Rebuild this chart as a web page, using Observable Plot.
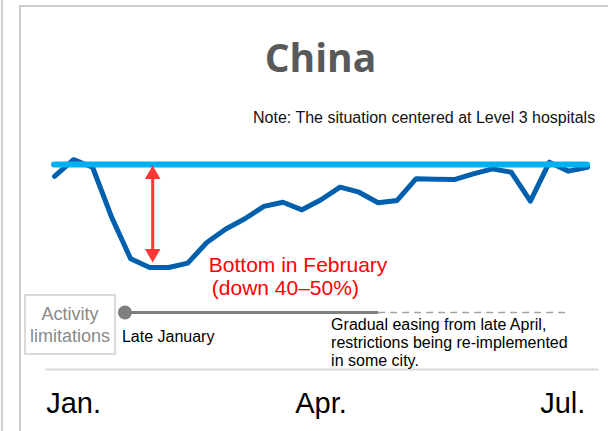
<!DOCTYPE html>
<html>
<head>
<meta charset="utf-8">
<script src="https://cdn.jsdelivr.net/npm/d3@7"></script>
<script src="https://cdn.jsdelivr.net/npm/@observablehq/plot@0.6"></script>
<style>
  html, body { margin: 0; padding: 0; background: #fff; }
  #page { position: relative; width: 608px; height: 431px; overflow: hidden;
          font-family: "Liberation Sans", Arial, sans-serif; }
  #edge { position: absolute; left: 1px; top: 0; width: 2px; height: 431px; background: #d0d0d0; }
  #panel { position: absolute; left: 19px; top: 5px; width: 640px; height: 460px;
           border-left: 2px solid #cdcdcd; border-top: 2px solid #cdcdcd; }
  #title { position: absolute; left: 200px; width: 241px; top: 37px; text-align: center;
           font-family: "Open Sans", sans-serif; font-weight: 700; font-size: 39px;
           line-height: 39px; color: #595959; }
  #note { position: absolute; left: 253px; top: 110px; font-size: 16px; line-height: 16px;
          color: #111; white-space: nowrap; }
  #lane { position: absolute; left: 24px; top: 294px; width: 92px; height: 61px;
          box-sizing: border-box; border: 2px solid #dadada; }
  #laneText { position: absolute; left: 24px; width: 92px; top: 303px; text-align: center;
              font-size: 18px; line-height: 22px; color: #8a8a8a; }
  .layer { position: absolute; left: 0; }
</style>
</head>
<body>
<div id="page">
  <div id="edge"></div>
  <div id="panel"></div>
  <div id="title">China</div>
  <div id="note">Note: The situation centered at Level 3 hospitals</div>
  <div id="lane"></div>
  <div id="laneText">Activity<br>limitations</div>
  <div id="chart" class="layer" style="top:0"></div>
  <div id="timeline" class="layer" style="top:280px"></div>
</div>
<script>
// Weekly hospital activity, indexed to the normal level (= 100), late Dec. to early Jul.
const weeklyActivity = [94.8, 102.1, 98.8, 77.0, 58.8, 55.0, 55.0, 56.9, 65.9, 71.8,
                        76.3, 81.7, 83.5, 80.2, 84.6, 90.1, 87.9, 83.3, 84.3, 93.8,
                        93.6, 93.4, 95.9, 98.1, 96.6, 84.0, 101.0, 97.1, 98.8];
const normalLevel = 100;
const bottomLevel = d3.min(weeklyActivity);
const bottomWeek = weeklyActivity.indexOf(bottomLevel);

// Month tick positions (week index) and their labels
const monthTicks = [1, 14, 26.7];
const monthLabels = ["Jan.", "Apr.", "Jul."];

// Annotation texts
const bottomNote = ["Bottom in February", "(down 40\u201350%)"];
const laneName = "Activity limitations";
const lateJanuary = 3.7;   // start of limitations
const lateApril = 17;      // start of gradual easing
const outlookEnd = 27;
const easingNote = "Gradual easing from late April,\nrestrictions being re-implemented\nin some city.";

const red = "#ff0000";
const arrowRed = "#ff3636";
const lastWeek = weeklyActivity.length - 1;
const xScale = {domain: [0, lastWeek], range: [54, 587]};
const font = "'Liberation Sans', Arial, sans-serif";

const chart = Plot.plot({
  width: 608,
  height: 431,
  marginTop: 0,
  marginLeft: 46,
  marginRight: 11,
  marginBottom: 62,
  x: {...xScale, axis: null},
  y: {domain: [bottomLevel, normalLevel], range: [267, 164], axis: null},
  style: {background: "transparent", fontFamily: font, overflow: "visible"},
  marks: [
    Plot.frame({anchor: "bottom", stroke: "#d9d9d9", strokeWidth: 2}),
    Plot.axisX(monthTicks, {
      tickFormat: d => monthLabels[monthTicks.indexOf(d)],
      tickSize: 0, tickPadding: 23, fontSize: 29, fontWeight: "normal",
      fill: "#000", stroke: "none"
    }),
    Plot.line(weeklyActivity, {
      x: (d, i) => i, y: d => d,
      stroke: "#0060ae", strokeWidth: 5, strokeLinejoin: "round", strokeLinecap: "round"
    }),
    Plot.ruleY([normalLevel], {
      x1: 0, x2: lastWeek,
      stroke: "#00b0f0", strokeWidth: 6, strokeLinecap: "round"
    }),
    // double-headed drop arrow from normal level to the bottom
    Plot.ruleX([bottomWeek], {
      y1: normalLevel, y2: bottomLevel, dx: 3,
      stroke: arrowRed, strokeWidth: 3, insetTop: 12, insetBottom: 16
    }),
    Plot.dot([normalLevel], {
      x: bottomWeek, y: d => d, dx: 3, dy: 10,
      symbol: "triangle", r: 5.8, fill: arrowRed, stroke: null
    }),
    Plot.dot([bottomLevel], {
      x: bottomWeek, y: d => d, dx: 3, dy: -14, rotate: 180,
      symbol: "triangle", r: 5.8, fill: arrowRed, stroke: null
    }),
    Plot.text([bottomNote[0]], {
      x: 8, y: bottomLevel, text: d => d, textAnchor: "start",
      dx: 2, dy: -2.5, fill: red, fontSize: 21
    }),
    Plot.text([bottomNote[1]], {
      x: 8, y: bottomLevel, text: d => d, textAnchor: "start",
      dx: 5, dy: 20.5, fill: red, fontSize: 21
    })
  ]
});
document.getElementById("chart").append(chart);

const timeline = Plot.plot({
  width: 608,
  height: 100,
  margin: 0,
  x: {...xScale, axis: null},
  y: {type: "point", domain: [laneName], range: [31.5, 31.5], axis: null},
  style: {background: "transparent", fontFamily: font, overflow: "visible"},
  marks: [
    Plot.link([laneName], {
      x1: lateApril, x2: outlookEnd, y1: d => d, y2: d => d,
      stroke: "#a3a3a3", strokeWidth: 1.6, strokeDasharray: "7,5"
    }),
    Plot.link([laneName], {
      x1: lateJanuary, x2: lateApril, y1: d => d, y2: d => d,
      stroke: "#7f7f7f", strokeWidth: 3
    }),
    Plot.dot([laneName], {x: lateJanuary, y: d => d, r: 7, fill: "#7f7f7f", stroke: null}),
    Plot.text([laneName], {
      x: lateJanuary, y: d => d, text: () => "Late January",
      textAnchor: "start", dx: -3, dy: 24.5, fontSize: 16, fill: "#000"
    }),
    Plot.text([laneName], {
      x: lateApril, y: d => d, text: () => easingNote,
      textAnchor: "start", lineAnchor: "top", lineHeight: 1.15,
      dx: -47, dy: 4, fontSize: 16, fill: "#000"
    })
  ]
});
document.getElementById("timeline").append(timeline);
</script>
</body>
</html>
